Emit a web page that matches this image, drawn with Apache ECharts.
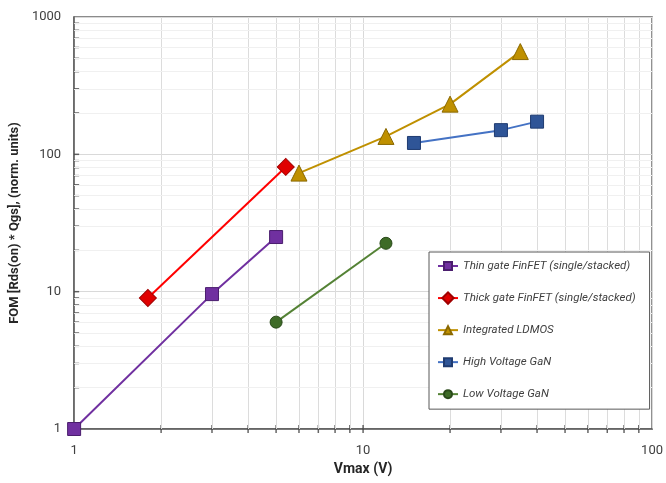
<!DOCTYPE html>
<html>
<head>
<meta charset="utf-8">
<script src="https://cdn.jsdelivr.net/npm/echarts@6/dist/echarts.min.js"></script>
<style>
html,body{margin:0;padding:0;background:#fff;}
#c{width:666px;height:483px;}
</style>
</head>
<body>
<div id="c"></div>
<script>
// ---- data ----
const seriesNames = [
  'Thin gate FinFET (single/stacked)',
  'Thick gate FinFET (single/stacked)',
  'Integrated LDMOS',
  'High Voltage GaN',
  'Low Voltage GaN'
];
const thinGateX = [1, 3, 5];
const thinGateY = [1, 9.6, 25];
const thickGateX = [1.8, 5.4];
const thickGateY = [9, 81];
const ldmosX = [6, 12, 20, 35];
const ldmosY = [73, 135, 232, 560];
const hvGanX = [15, 30, 40];
const hvGanY = [121, 150, 173];
const lvGanX = [5, 12];
const lvGanY = [6, 22.5];

const xMinorValues = [2, 3, 4, 5, 6, 7, 8, 9, 20, 30, 40, 50, 60, 70, 80, 90];
const xTickValues = [2, 3, 4, 5, 6, 7, 8, 9, 10, 20, 30, 40, 50, 60, 70, 80, 90];
const yMinorValues = [2, 3, 4, 5, 6, 7, 8, 9, 20, 30, 40, 50, 60, 70, 80, 90, 200, 300, 400, 500, 600, 700, 800, 900];
const yTickValues = [2, 3, 4, 5, 6, 7, 8, 9, 10, 20, 30, 40, 50, 60, 70, 80, 90, 100, 200, 300, 400, 500, 600, 700, 800, 900];

const xTitle = 'Vmax (V)';
const yTitle = 'FOM [Rds(on) * Qgs], (norm. units)';

function pairs(xs, ys) { return xs.map((x, i) => [x, ys[i]]); }

const FONT = "Roboto, 'Liberation Sans', sans-serif";

const chart = echarts.init(document.getElementById('c'), null, {renderer: 'canvas'});

function dataSeries(name, data, lineColor, markColor, borderColor, symbol, size, rotate) {
  return {
    name: name,
    type: 'line',
    data: data,
    symbol: symbol,
    symbolSize: size,
    symbolRotate: rotate || 0,
    showSymbol: true,
    z: 5,
    lineStyle: {color: lineColor, width: 2},
    itemStyle: {color: markColor, borderColor: borderColor, borderWidth: 1},
    emphasis: {disabled: true},
    animation: false
  };
}

const option = {
  animation: false,
  backgroundColor: '#ffffff',
  grid: {
    left: 71, right: 9, top: 17, bottom: 54,
    show: true, borderColor: '#666666', borderWidth: 1.5, backgroundColor: 'transparent'
  },
  xAxis: {
    type: 'log', logBase: 10, min: 1, max: 100,
    name: xTitle, nameLocation: 'middle', nameGap: 33,
    nameTextStyle: {fontFamily: FONT, fontWeight: 'bold', fontSize: 14, color: '#262626'},
    axisLine: {show: true, lineStyle: {color: '#595959', width: 1.5}},
    axisTick: {show: false},
    axisLabel: {fontFamily: FONT, fontSize: 13, color: '#404040', margin: 15, formatter: v => String(v)},
    splitLine: {show: true, lineStyle: {color: '#d9d9d9', width: 1}}
  },
  yAxis: {
    type: 'log', logBase: 10, min: 1, max: 1000,
    name: yTitle, nameLocation: 'middle', nameGap: 42, nameRotate: 90,
    nameTextStyle: {fontFamily: FONT, fontWeight: 'bold', fontSize: 13, color: '#262626'},
    axisLine: {show: true, lineStyle: {color: '#595959', width: 1.5}},
    axisTick: {show: false},
    axisLabel: {fontFamily: FONT, fontSize: 13, color: '#404040', margin: 13, formatter: v => String(v)},
    splitLine: {show: true, lineStyle: {color: '#d9d9d9', width: 1}}
  },
  legend: {
    data: seriesNames,
    orient: 'vertical',
    left: 429, top: 252,
    z: 20,
    backgroundColor: '#ffffff',
    borderColor: '#595959', borderWidth: 1,
    padding: [7, 14, 8, 8],
    itemWidth: 20, itemHeight: 10, itemGap: 18,
    textStyle: {fontFamily: FONT, fontStyle: 'italic', fontSize: 11.5, lineHeight: 14, color: '#404040'},
    selectedMode: false
  },
  series: [
    {
      name: 'vgrid', type: 'line', data: [], silent: true, z: 1,
      markLine: {
        silent: true, symbol: 'none', label: {show: false}, animation: false,
        lineStyle: {color: '#dcdcdc', type: 'solid', width: 1},
        data: xMinorValues.map(v => ({xAxis: v}))
      }
    },
    {
      name: 'hgrid', type: 'line', data: [], silent: true, z: 1,
      markLine: {
        silent: true, symbol: 'none', label: {show: false}, animation: false,
        lineStyle: {color: '#f0f0f0', type: 'solid', width: 1},
        data: yMinorValues.map(v => ({yAxis: v}))
      }
    },
    {
      name: 'xticks', type: 'scatter', silent: true, clip: false, z: 4,
      symbol: 'rect', symbolSize: [1.5, 8],
      itemStyle: {color: '#404040'},
      data: xTickValues.map(v => [v, 1])
    },
    {
      name: 'yticks', type: 'scatter', silent: true, clip: false, z: 4,
      symbol: 'rect', symbolSize: [5, 1.5], symbolOffset: [2.5, 0],
      itemStyle: {color: '#404040'},
      data: yTickValues.map(v => [1, v])
    },
    dataSeries(seriesNames[0], pairs(thinGateX, thinGateY), '#7030A0', '#7030A0', '#4B1E6E', 'rect', 13),
    dataSeries(seriesNames[1], pairs(thickGateX, thickGateY), '#FF0000', '#E00000', '#A00000', 'rect', 12, 45),
    dataSeries(seriesNames[2], pairs(ldmosX, ldmosY), '#BF9000', '#BF9000', '#8A6800', 'triangle', 16),
    dataSeries(seriesNames[3], pairs(hvGanX, hvGanY), '#4472C4', '#2F5597', '#1F3B70', 'rect', 13),
    dataSeries(seriesNames[4], pairs(lvGanX, lvGanY), '#548235', '#3E6B27', '#2A4A1A', 'circle', 12)
  ]
};
chart.setOption(option);
</script>
</body>
</html>
